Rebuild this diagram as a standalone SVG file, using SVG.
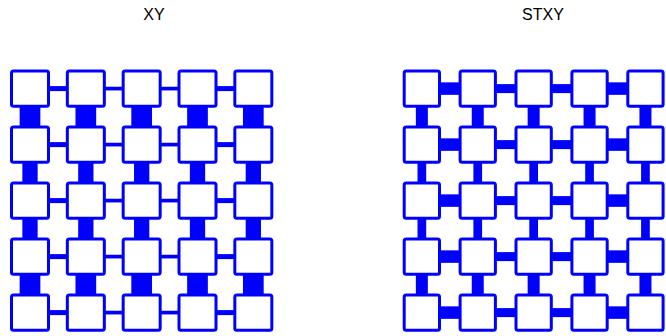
<svg xmlns="http://www.w3.org/2000/svg" width="666" height="336" viewBox="0 0 666 336">
<style>
.t{font-family:"Liberation Sans",Arial,sans-serif;font-size:16px;fill:#000;text-anchor:middle}
.b{fill:#fff;stroke:#00f;stroke-width:3}
.c{fill:#00f;stroke:none}
</style>
<rect width="666" height="336" fill="#fff"/>
<text class="t" x="154" y="19.5">XY</text>
<text class="t" x="543" y="19.5">STXY</text>
<g id="connectors">
<!-- XY vertical -->
<g id="xy-v">
<rect class="c" x="19.65" y="106" width="20.7" height="21"/><rect class="c" x="75.48" y="106" width="20.7" height="21"/><rect class="c" x="131.32" y="106" width="20.7" height="21"/><rect class="c" x="187.15" y="106" width="20.7" height="21"/><rect class="c" x="242.98" y="106" width="20.7" height="21"/>
<rect class="c" x="22.35" y="162" width="15.3" height="21"/><rect class="c" x="78.18" y="162" width="15.3" height="21"/><rect class="c" x="134.02" y="162" width="15.3" height="21"/><rect class="c" x="189.85" y="162" width="15.3" height="21"/><rect class="c" x="245.68" y="162" width="15.3" height="21"/>
<rect class="c" x="22.35" y="218" width="15.3" height="21"/><rect class="c" x="78.18" y="218" width="15.3" height="21"/><rect class="c" x="134.02" y="218" width="15.3" height="21"/><rect class="c" x="189.85" y="218" width="15.3" height="21"/><rect class="c" x="245.68" y="218" width="15.3" height="21"/>
<rect class="c" x="19.65" y="274" width="20.7" height="21"/><rect class="c" x="75.48" y="274" width="20.7" height="21"/><rect class="c" x="131.32" y="274" width="20.7" height="21"/><rect class="c" x="187.15" y="274" width="20.7" height="21"/><rect class="c" x="242.98" y="274" width="20.7" height="21"/>
</g>
<!-- XY horizontal -->
<g id="xy-h">
<rect class="c" x="48" y="86.1" width="19.83" height="5"/><rect class="c" x="103.83" y="86.75" width="19.83" height="3.7"/><rect class="c" x="159.67" y="86.75" width="19.83" height="3.7"/><rect class="c" x="215.5" y="86.1" width="19.83" height="5"/>
<rect class="c" x="48" y="142.1" width="19.83" height="5"/><rect class="c" x="103.83" y="142.75" width="19.83" height="3.7"/><rect class="c" x="159.67" y="142.75" width="19.83" height="3.7"/><rect class="c" x="215.5" y="142.1" width="19.83" height="5"/>
<rect class="c" x="48" y="198.1" width="19.83" height="5"/><rect class="c" x="103.83" y="198.75" width="19.83" height="3.7"/><rect class="c" x="159.67" y="198.75" width="19.83" height="3.7"/><rect class="c" x="215.5" y="198.1" width="19.83" height="5"/>
<rect class="c" x="48" y="254.1" width="19.83" height="5"/><rect class="c" x="103.83" y="254.75" width="19.83" height="3.7"/><rect class="c" x="159.67" y="254.75" width="19.83" height="3.7"/><rect class="c" x="215.5" y="254.1" width="19.83" height="5"/>
<rect class="c" x="48" y="310.1" width="19.83" height="5"/><rect class="c" x="103.83" y="310.75" width="19.83" height="3.7"/><rect class="c" x="159.67" y="310.75" width="19.83" height="3.7"/><rect class="c" x="215.5" y="310.1" width="19.83" height="5"/>
</g>
<!-- STXY vertical -->
<g id="stxy-v">
<rect class="c" x="415.85" y="106" width="12" height="21"/><rect class="c" x="471.75" y="106" width="12" height="21"/><rect class="c" x="527.65" y="106" width="12" height="21"/><rect class="c" x="583.55" y="106" width="12" height="21"/><rect class="c" x="639.45" y="106" width="12" height="21"/>
<rect class="c" x="417.5" y="162" width="8.7" height="21"/><rect class="c" x="473.4" y="162" width="8.7" height="21"/><rect class="c" x="529.3" y="162" width="8.7" height="21"/><rect class="c" x="585.2" y="162" width="8.7" height="21"/><rect class="c" x="641.1" y="162" width="8.7" height="21"/>
<rect class="c" x="417.5" y="218" width="8.7" height="21"/><rect class="c" x="473.4" y="218" width="8.7" height="21"/><rect class="c" x="529.3" y="218" width="8.7" height="21"/><rect class="c" x="585.2" y="218" width="8.7" height="21"/><rect class="c" x="641.1" y="218" width="8.7" height="21"/>
<rect class="c" x="415.85" y="274" width="12" height="21"/><rect class="c" x="471.75" y="274" width="12" height="21"/><rect class="c" x="527.65" y="274" width="12" height="21"/><rect class="c" x="583.55" y="274" width="12" height="21"/><rect class="c" x="639.45" y="274" width="12" height="21"/>
</g>
<!-- STXY horizontal -->
<g id="stxy-h">
<rect class="c" x="439" y="82.35" width="21.6" height="12.5"/><rect class="c" x="494.9" y="84.1" width="21.6" height="9"/><rect class="c" x="550.8" y="84.1" width="21.6" height="9"/><rect class="c" x="606.7" y="82.35" width="21.6" height="12.5"/>
<rect class="c" x="439" y="138.35" width="21.6" height="12.5"/><rect class="c" x="494.9" y="140.1" width="21.6" height="9"/><rect class="c" x="550.8" y="140.1" width="21.6" height="9"/><rect class="c" x="606.7" y="138.35" width="21.6" height="12.5"/>
<rect class="c" x="439" y="194.35" width="21.6" height="12.5"/><rect class="c" x="494.9" y="196.1" width="21.6" height="9"/><rect class="c" x="550.8" y="196.1" width="21.6" height="9"/><rect class="c" x="606.7" y="194.35" width="21.6" height="12.5"/>
<rect class="c" x="439" y="250.35" width="21.6" height="12.5"/><rect class="c" x="494.9" y="252.1" width="21.6" height="9"/><rect class="c" x="550.8" y="252.1" width="21.6" height="9"/><rect class="c" x="606.7" y="250.35" width="21.6" height="12.5"/>
<rect class="c" x="439" y="306.35" width="21.6" height="12.5"/><rect class="c" x="494.9" y="308.1" width="21.6" height="9"/><rect class="c" x="550.8" y="308.1" width="21.6" height="9"/><rect class="c" x="606.7" y="306.35" width="21.6" height="12.5"/>
</g>
</g>
<g id="xy-nodes">
<g id="xy-1-1"><rect class="b" x="11.5" y="70.9" width="37" height="35.4" rx="2"/></g>
<g id="xy-1-2"><rect class="b" x="67.33" y="70.9" width="37" height="35.4" rx="2"/></g>
<g id="xy-1-3"><rect class="b" x="123.17" y="70.9" width="37" height="35.4" rx="2"/></g>
<g id="xy-1-4"><rect class="b" x="179" y="70.9" width="37" height="35.4" rx="2"/></g>
<g id="xy-1-5"><rect class="b" x="234.83" y="70.9" width="37" height="35.4" rx="2"/></g>
<g id="xy-2-1"><rect class="b" x="11.5" y="126.9" width="37" height="35.4" rx="2"/></g>
<g id="xy-2-2"><rect class="b" x="67.33" y="126.9" width="37" height="35.4" rx="2"/></g>
<g id="xy-2-3"><rect class="b" x="123.17" y="126.9" width="37" height="35.4" rx="2"/></g>
<g id="xy-2-4"><rect class="b" x="179" y="126.9" width="37" height="35.4" rx="2"/></g>
<g id="xy-2-5"><rect class="b" x="234.83" y="126.9" width="37" height="35.4" rx="2"/></g>
<g id="xy-3-1"><rect class="b" x="11.5" y="182.9" width="37" height="35.4" rx="2"/></g>
<g id="xy-3-2"><rect class="b" x="67.33" y="182.9" width="37" height="35.4" rx="2"/></g>
<g id="xy-3-3"><rect class="b" x="123.17" y="182.9" width="37" height="35.4" rx="2"/></g>
<g id="xy-3-4"><rect class="b" x="179" y="182.9" width="37" height="35.4" rx="2"/></g>
<g id="xy-3-5"><rect class="b" x="234.83" y="182.9" width="37" height="35.4" rx="2"/></g>
<g id="xy-4-1"><rect class="b" x="11.5" y="238.9" width="37" height="35.4" rx="2"/></g>
<g id="xy-4-2"><rect class="b" x="67.33" y="238.9" width="37" height="35.4" rx="2"/></g>
<g id="xy-4-3"><rect class="b" x="123.17" y="238.9" width="37" height="35.4" rx="2"/></g>
<g id="xy-4-4"><rect class="b" x="179" y="238.9" width="37" height="35.4" rx="2"/></g>
<g id="xy-4-5"><rect class="b" x="234.83" y="238.9" width="37" height="35.4" rx="2"/></g>
<g id="xy-5-1"><rect class="b" x="11.5" y="294.9" width="37" height="35.4" rx="2"/></g>
<g id="xy-5-2"><rect class="b" x="67.33" y="294.9" width="37" height="35.4" rx="2"/></g>
<g id="xy-5-3"><rect class="b" x="123.17" y="294.9" width="37" height="35.4" rx="2"/></g>
<g id="xy-5-4"><rect class="b" x="179" y="294.9" width="37" height="35.4" rx="2"/></g>
<g id="xy-5-5"><rect class="b" x="234.83" y="294.9" width="37" height="35.4" rx="2"/></g>
</g>
<g id="stxy-nodes">
<g id="stxy-1-1"><rect class="b" x="404.2" y="70.9" width="35.3" height="35.4" rx="2"/></g>
<g id="stxy-1-2"><rect class="b" x="460.1" y="70.9" width="35.3" height="35.4" rx="2"/></g>
<g id="stxy-1-3"><rect class="b" x="516" y="70.9" width="35.3" height="35.4" rx="2"/></g>
<g id="stxy-1-4"><rect class="b" x="571.9" y="70.9" width="35.3" height="35.4" rx="2"/></g>
<g id="stxy-1-5"><rect class="b" x="627.8" y="70.9" width="35.3" height="35.4" rx="2"/></g>
<g id="stxy-2-1"><rect class="b" x="404.2" y="126.9" width="35.3" height="35.4" rx="2"/></g>
<g id="stxy-2-2"><rect class="b" x="460.1" y="126.9" width="35.3" height="35.4" rx="2"/></g>
<g id="stxy-2-3"><rect class="b" x="516" y="126.9" width="35.3" height="35.4" rx="2"/></g>
<g id="stxy-2-4"><rect class="b" x="571.9" y="126.9" width="35.3" height="35.4" rx="2"/></g>
<g id="stxy-2-5"><rect class="b" x="627.8" y="126.9" width="35.3" height="35.4" rx="2"/></g>
<g id="stxy-3-1"><rect class="b" x="404.2" y="182.9" width="35.3" height="35.4" rx="2"/></g>
<g id="stxy-3-2"><rect class="b" x="460.1" y="182.9" width="35.3" height="35.4" rx="2"/></g>
<g id="stxy-3-3"><rect class="b" x="516" y="182.9" width="35.3" height="35.4" rx="2"/></g>
<g id="stxy-3-4"><rect class="b" x="571.9" y="182.9" width="35.3" height="35.4" rx="2"/></g>
<g id="stxy-3-5"><rect class="b" x="627.8" y="182.9" width="35.3" height="35.4" rx="2"/></g>
<g id="stxy-4-1"><rect class="b" x="404.2" y="238.9" width="35.3" height="35.4" rx="2"/></g>
<g id="stxy-4-2"><rect class="b" x="460.1" y="238.9" width="35.3" height="35.4" rx="2"/></g>
<g id="stxy-4-3"><rect class="b" x="516" y="238.9" width="35.3" height="35.4" rx="2"/></g>
<g id="stxy-4-4"><rect class="b" x="571.9" y="238.9" width="35.3" height="35.4" rx="2"/></g>
<g id="stxy-4-5"><rect class="b" x="627.8" y="238.9" width="35.3" height="35.4" rx="2"/></g>
<g id="stxy-5-1"><rect class="b" x="404.2" y="294.9" width="35.3" height="35.4" rx="2"/></g>
<g id="stxy-5-2"><rect class="b" x="460.1" y="294.9" width="35.3" height="35.4" rx="2"/></g>
<g id="stxy-5-3"><rect class="b" x="516" y="294.9" width="35.3" height="35.4" rx="2"/></g>
<g id="stxy-5-4"><rect class="b" x="571.9" y="294.9" width="35.3" height="35.4" rx="2"/></g>
<g id="stxy-5-5"><rect class="b" x="627.8" y="294.9" width="35.3" height="35.4" rx="2"/></g>
</g>
</svg>
